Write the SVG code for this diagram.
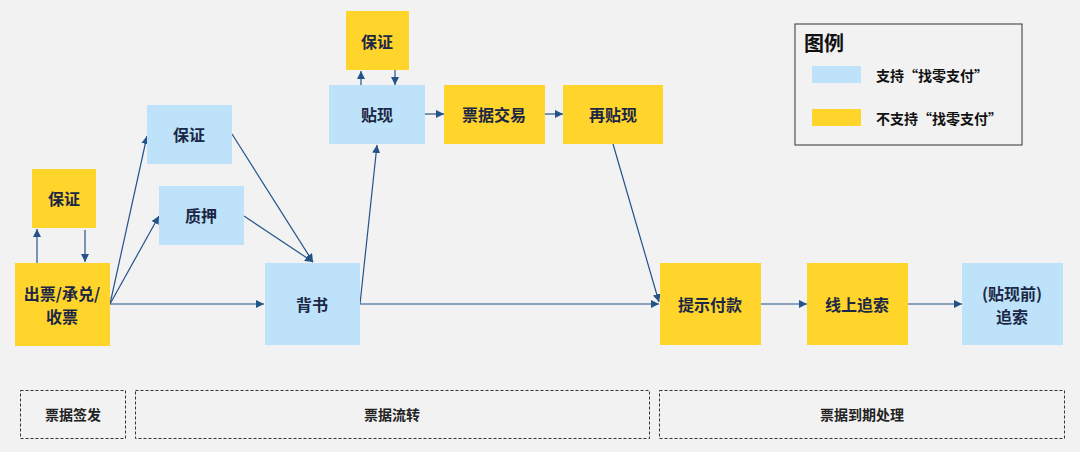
<svg xmlns="http://www.w3.org/2000/svg" width="1080" height="452" viewBox="0 0 1080 452">
<style>
.y{fill:#ffd42b}
.b{fill:#bde2fa}
.t{font-family:"Noto Sans CJK SC","Noto Sans",sans-serif;font-weight:bold;font-size:16px;fill:#1b2745;text-anchor:middle;dominant-baseline:central}
.c{stroke:#24538a;stroke-width:1.2;fill:none;marker-end:url(#ah)}
.d{fill:none;stroke:#333;stroke-width:1;stroke-dasharray:3,2}
.l{font-family:"Noto Sans CJK SC","Noto Sans",sans-serif;font-weight:bold;font-size:14px;fill:#111;dominant-baseline:central}
.s{font-family:"Noto Sans CJK SC","Noto Sans",sans-serif;font-weight:bold;font-size:14px;fill:#222;text-anchor:middle;dominant-baseline:central}
</style>
<defs>
<marker id="ah" viewBox="0 0 10 10" refX="10" refY="5" markerWidth="8" markerHeight="8" markerUnits="userSpaceOnUse" orient="auto">
<path d="M0,0 L10,5 L0,10 z" fill="#24538a"/>
</marker>
</defs>
<rect width="1080" height="452" fill="#f2f2f2"/>
<g id="connectors">
<line class="c" x1="37" y1="263" x2="37" y2="229"/>
<line class="c" x1="85" y1="230" x2="85" y2="262"/>
<line class="c" x1="110" y1="304" x2="147" y2="136"/>
<line class="c" x1="110" y1="304" x2="159" y2="216"/>
<line class="c" x1="110" y1="304" x2="264" y2="304"/>
<line class="c" x1="232" y1="134" x2="313" y2="262"/>
<line class="c" x1="244" y1="216" x2="313" y2="262"/>
<line class="c" x1="360" y1="304" x2="377" y2="145"/>
<line class="c" x1="360" y1="304" x2="659" y2="304"/>
<line class="c" x1="361" y1="91" x2="361" y2="71"/>
<line class="c" x1="395" y1="70" x2="395" y2="85"/>
<line class="c" x1="425" y1="114" x2="444" y2="114"/>
<line class="c" x1="545" y1="114" x2="563" y2="114"/>
<line class="c" x1="613" y1="144" x2="659" y2="302"/>
<line class="c" x1="761" y1="304" x2="807" y2="304"/>
<line class="c" x1="908" y1="304" x2="962" y2="304"/>
</g>
<g id="n-guarantee1"><rect class="y" x="32" y="169" width="64" height="59"/><text class="t" x="64" y="198">保证</text></g>
<g id="n-issue"><rect class="y" x="15" y="263" width="95" height="83"/><text class="t" x="62" y="293">出票/承兑/</text><text class="t" x="62" y="316">收票</text></g>
<g id="n-guarantee2"><rect class="b" x="147" y="105" width="85" height="59"/><text class="t" x="189" y="134">保证</text></g>
<g id="n-pledge"><rect class="b" x="159" y="186" width="85" height="59"/><text class="t" x="201" y="215">质押</text></g>
<g id="n-endorse"><rect class="b" x="265" y="263" width="95" height="82"/><text class="t" x="312" y="304">背书</text></g>
<g id="n-guarantee3"><rect class="y" x="346" y="11" width="63" height="59"/><text class="t" x="377" y="41">保证</text></g>
<g id="n-discount"><rect class="b" x="329" y="85" width="96" height="59"/><text class="t" x="377" y="114">贴现</text></g>
<g id="n-trade"><rect class="y" x="444" y="85" width="101" height="59"/><text class="t" x="494" y="114">票据交易</text></g>
<g id="n-rediscount"><rect class="y" x="563" y="85" width="100" height="59"/><text class="t" x="613" y="114">再贴现</text></g>
<g id="n-present"><rect class="y" x="660" y="263" width="101" height="82"/><text class="t" x="710" y="304">提示付款</text></g>
<g id="n-recourse"><rect class="y" x="807" y="263" width="101" height="82"/><text class="t" x="857" y="304">线上追索</text></g>
<g id="n-recourse2"><rect class="b" x="962" y="263" width="101" height="82"/><text class="t" x="1012" y="293">(贴现前)</text><text class="t" x="1012" y="316">追索</text></g>
<g id="legend">
<rect x="795" y="24" width="227" height="121" fill="#f2f2f2" stroke="#333" stroke-width="1"/>
<text x="804" y="42" font-family="'Noto Sans CJK SC','Noto Sans',sans-serif" font-weight="bold" font-size="20" fill="#111" dominant-baseline="central">图例</text>
<rect class="b" x="812" y="66" width="49" height="17"/>
<text class="l" x="876" y="75">支持“找零支付”</text>
<rect class="y" x="812" y="109" width="49" height="17"/>
<text class="l" x="876" y="118">不支持“找零支付”</text>
</g>
<g id="stage-issue"><rect class="d" x="20.5" y="390.5" width="105" height="48"/><text class="s" x="73" y="414">票据签发</text></g>
<g id="stage-circulation"><rect class="d" x="135.5" y="390.5" width="514" height="48"/><text class="s" x="392" y="414">票据流转</text></g>
<g id="stage-maturity"><rect class="d" x="659.5" y="390.5" width="405" height="48"/><text class="s" x="862" y="414">票据到期处理</text></g>
</svg>
